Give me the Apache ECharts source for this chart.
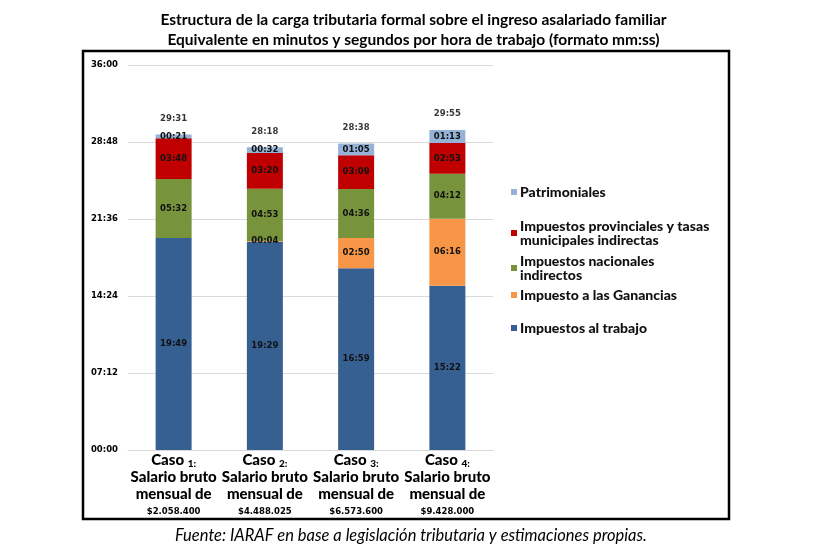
<!DOCTYPE html>
<html>
<head>
<meta charset="utf-8">
<script src="https://cdn.jsdelivr.net/npm/echarts@6/dist/echarts.min.js"></script>
<style>
  html, body { margin: 0; padding: 0; background: #fff; }
  #chart { width: 827px; height: 556px; }
</style>
</head>
<body>
<div id="chart"></div>
<script>
// valores en segundos por hora de trabajo
const casos = ['1', '2', '3', '4'];
const salarios = ['$2.058.400', '$4.488.025', '$6.573.600', '$9.428.000'];
const trabajo = [1189, 1169, 1019, 922];        // 19:49 19:29 16:59 15:22
const ganancias = [0, 4, 170, 376];              // - 00:04 02:50 06:16
const nacionales = [332, 293, 276, 252];         // 05:32 04:53 04:36 04:12
const provinciales = [228, 200, 189, 173];       // 03:48 03:20 03:09 02:53
const patrimoniales = [21, 32, 65, 73];          // 00:21 00:32 01:05 01:13
const totales = [1771, 1698, 1718, 1795];        // 29:31 28:18 28:38 29:55
const yTicks = [0, 432, 864, 1296, 1728, 2160];

function mmss(v) {
    const m = Math.floor(v / 60), s = Math.round(v % 60);
    return String(m).padStart(2, '0') + ':' + String(s).padStart(2, '0');
}

const font = 'Lato';
const numFont = 'DejaVu Sans';

const segLabel = {
    show: true,
    position: 'inside',
    fontFamily: numFont,
    fontWeight: 'bold',
    fontSize: 8.5,
    color: '#111',
    formatter: p => p.value > 0 ? mmss(p.value) : ''
};

function serie(name, data, color) {
    return {
        name: name,
        type: 'bar',
        stack: 'total',
        barWidth: 36,
        data: data,
        itemStyle: { color: color },
        label: segLabel
    };
}

const names = {
    pat: 'Patrimoniales',
    prov: 'Impuestos provinciales y tasas\nmunicipales indirectas',
    nac: 'Impuestos nacionales\nindirectos',
    gan: 'Impuesto a las Ganancias',
    trab: 'Impuestos al trabajo'
};

function legend(name, top) {
    return {
        data: [name],
        left: 511,
        top: top,
        padding: 0,
        icon: 'rect',
        itemWidth: 6,
        itemHeight: 6,
        itemGap: 0,
        selectedMode: false,
        textStyle: { fontFamily: font, fontWeight: 900, fontSize: 14, color: '#111', lineHeight: 14, padding: [0, 0, 0, -2] }
    };
}

const option = {
    animation: false,
    title: [{
        text: 'Estructura de la carga tributaria formal sobre el ingreso asalariado familiar\nEquivalente en minutos y segundos por hora de trabajo (formato mm:ss)',
        left: 'center',
        top: 5,
        textStyle: { fontFamily: font, fontWeight: 'bold', fontSize: 15.5, lineHeight: 20, color: '#000' }
    }, {
        text: 'Fuente: IARAF en base a legislación tributaria y estimaciones propias.',
        left: 406,
        textAlign: 'center',
        top: 522,
        textStyle: { fontFamily: font, fontStyle: 'italic', fontWeight: 'normal', fontSize: 16.5, color: '#000' }
    }],
    legend: [
        legend(names.pat, 185),
        legend(names.prov, 219),
        legend(names.nac, 254),
        legend(names.gan, 288),
        legend(names.trab, 321)
    ],
    graphic: [{
        type: 'rect',
        shape: { x: 83, y: 51, width: 646, height: 468 },
        style: { fill: 'none', stroke: '#000', lineWidth: 2.5 },
        z: 100
    }],
    grid: { left: 128, right: 334, top: 65, bottom: 106 },
    xAxis: {
        type: 'category',
        data: casos,
        axisLine: { lineStyle: { color: '#d9d9d9' } },
        axisTick: { show: false },
        axisLabel: {
            margin: 2,
            interval: 0,
            lineHeight: 17,
            fontFamily: font,
            fontWeight: 900,
            fontSize: 15,
            color: '#000',
            formatter: (v, i) => 'Caso {n|' + v + ':}\nSalario bruto\nmensual de\n{m|' + salarios[i] + '}',
            rich: {
                n: { fontFamily: font, fontWeight: 900, fontSize: 10, color: '#000', verticalAlign: 'bottom' },
                m: { fontFamily: numFont, fontWeight: 'bold', fontSize: 8.5, color: '#000', lineHeight: 17 }
            }
        }
    },
    yAxis: {
        type: 'value',
        min: yTicks[0],
        max: yTicks[yTicks.length - 1],
        interval: yTicks[1] - yTicks[0],
        axisLine: { show: false },
        axisTick: { show: false },
        splitLine: { lineStyle: { color: '#d9d9d9' } },
        axisLabel: {
            margin: 10,
            fontFamily: numFont,
            fontWeight: 'bold',
            fontSize: 8.5,
            color: '#000',
            formatter: v => mmss(v)
        }
    },
    series: [
        serie(names.trab, trabajo, '#376092'),
        serie(names.gan, ganancias, '#F79646'),
        serie(names.nac, nacionales, '#77933C'),
        serie(names.prov, provinciales, '#C00000'),
        serie(names.pat, patrimoniales, '#95B3D7'),
        {
            name: 'Total',
            type: 'scatter',
            data: totales,
            symbolSize: 1,
            itemStyle: { color: 'rgba(0,0,0,0)' },
            label: {
                show: true,
                position: 'top',
                distance: 11,
                fontFamily: numFont,
                fontWeight: 'bold',
                fontSize: 8.5,
                color: '#000',
                formatter: p => mmss(p.value)
            }
        }
    ]
};

const chart = echarts.init(document.getElementById('chart'));
chart.setOption(option);
</script>
</body>
</html>
